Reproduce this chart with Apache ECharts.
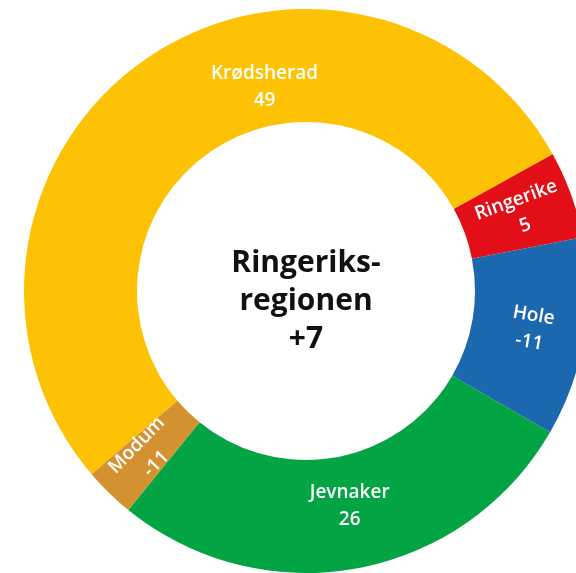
<!DOCTYPE html>
<html>
<head>
<meta charset="utf-8">
<script src="https://cdn.jsdelivr.net/npm/echarts@6/dist/echarts.min.js"></script>
<style>
  html, body { margin: 0; padding: 0; background: #ffffff; }
  #chart { width: 576px; height: 573px; }
</style>
</head>
<body>
<div id="chart"></div>
<script>
// ---- data ----
const municipalities = ['Krødsherad', 'Ringerike', 'Hole', 'Jevnaker', 'Modum'];
const changeValues = [49, 5, -11, 26, -11];          // numbers shown in the labels
const sliceShares = [53.2, 5.0, 11.4, 27.5, 2.9];     // slice sizes
const centerLines = ['Ringeriks-', 'regionen', '+7'];

// ---- styles ----
const sliceColors = ['#FCC203', '#E20E18', '#1C68AF', '#02A443', '#D49130'];
const labelRotations = [0, 'radial', 'radial', 0, 'radial'];
const labelPlacement = [[101.5, 208], null, null, [-78.5, 219], null]; // [angle deg, radius px]
const CX = 306, CY = 291, R0 = 169, R1 = 282;

const chart = echarts.init(document.getElementById('chart'), null, { renderer: 'canvas' });

const data = municipalities.map((name, i) => ({
  name: name,
  value: sliceShares[i],
  itemStyle: { color: sliceColors[i] },
  label: { rotate: labelRotations[i] }
}));

chart.setOption({
  backgroundColor: '#ffffff',
  animation: false,
  graphic: [{
    type: 'text',
    x: CX,
    y: 301,
    style: {
      text: centerLines.join('\n'),
      fill: '#111111',
      font: '700 30px "Open Sans", sans-serif',
      lineHeight: 38,
      align: 'center',
      verticalAlign: 'middle'
    }
  }],
  series: [{
    type: 'pie',
    center: [CX, CY],
    radius: [R0, R1],
    startAngle: 220.5,
    clockwise: true,
    avoidLabelOverlap: false,
    silent: true,
    itemStyle: { borderWidth: 0 },
    label: {
      show: true,
      position: 'inside',
      color: '#ffffff',
      fontFamily: 'Open Sans',
      fontWeight: 600,
      fontSize: 19,
      lineHeight: 27,
      formatter: p => p.name + '\n' + changeValues[p.dataIndex]
    },
    labelLine: { show: false },
    labelLayout: function (params) {
      const pl = labelPlacement[params.dataIndex];
      if (!pl) return {};
      const rad = pl[0] * Math.PI / 180;
      return { x: CX + pl[1] * Math.cos(rad), y: CY - pl[1] * Math.sin(rad), align: 'center', verticalAlign: 'middle' };
    },
    data: data
  }]
});
</script>
</body>
</html>
